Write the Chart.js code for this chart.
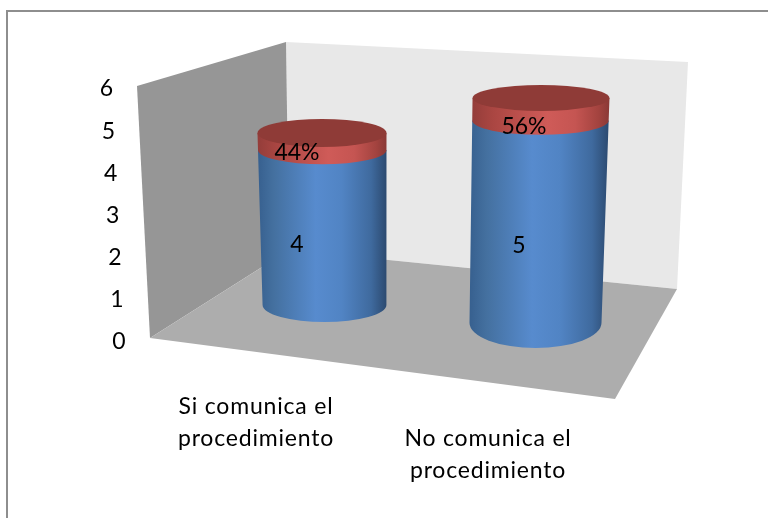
<!DOCTYPE html>
<html>
<head>
<meta charset="utf-8">
<script src="https://cdn.jsdelivr.net/npm/chart.js@4"></script>
<style>
  html, body { margin: 0; background: #fff; }
  #frame { position: absolute; left: 6px; top: 10px; right: 0; bottom: 0; border-left: 2px solid #8e8e8e; border-top: 2px solid #8e8e8e; }
  canvas { position: absolute; left: 0; top: 0; filter: blur(0.4px); }
</style>
</head>
<body>
<canvas id="myChart" width="768" height="518"></canvas>
<div id="frame"></div>
<script>
var categories = [["Si comunica el", "procedimiento"], ["No comunica el", "procedimiento"]];
var counts = [4, 5];
var shares = [0.44, 0.56];
var yTicks = [0, 1, 2, 3, 4, 5, 6];

// fake perspective, one entry per category. t is the bar height in scale pixels
var depth = [
  { dy: -37, k: 0.919, dx: 1.5, lean: -0.0134, w0: 0.96, dw: 0.000214, ry0: 17, dry: -0.016,
    countAt: [-26, 17], shareAt: [-26, 3] },
  { dy: -19, k: 0.96, dx: -2.5, lean: 0.0235, w0: 1.023, dw: 0.000164, ry0: 25, dry: -0.0512,
    countAt: [-19, 24], shareAt: [-14, 5.5] }
];

var FONT = '23px Lato, Carlito, sans-serif';

function poly(ctx, pts, fill) {
  ctx.beginPath();
  pts.forEach(function (p, i) { i ? ctx.lineTo(p[0], p[1]) : ctx.moveTo(p[0], p[1]); });
  ctx.closePath();
  ctx.fillStyle = fill;
  ctx.fill();
}

var room = {
  id: 'room',
  beforeDatasetsDraw: function (chart) {
    var ctx = chart.ctx;
    poly(ctx, [[286, 42], [688, 62], [677, 289], [289, 250]], '#e8e8e8');
    poly(ctx, [[137, 86], [286, 42], [289, 250], [150, 338]], '#969696');
    poly(ctx, [[150, 338], [289, 250], [677, 289], [615, 399]], '#adadad');
  }
};

function sideGradient(ctx, x0, x1, stops) {
  var g = ctx.createLinearGradient(x0, 0, x1, 0);
  stops.forEach(function (s) { g.addColorStop(s[0], s[1]); });
  return g;
}

var blueStops = [[0, '#37608f'], [0.12, '#44709f'], [0.45, '#578bce'], [0.65, '#5184c4'], [0.88, '#3f6a9e'], [1, '#2c4a70']];
var redStops = [[0, '#943d3a'], [0.15, '#aa4642'], [0.55, '#cf5b58'], [0.75, '#c55552'], [0.92, '#a3433f'], [1, '#8a3936']];

var cylinders = {
  id: 'cylinders',
  afterDatasetsDraw: function (chart) {
    var ctx = chart.ctx;
    var zero = chart.scales.y.getPixelForValue(0);
    function at(i, el, py) {
      var d = depth[i], t = zero - py;
      return {
        x: el.x + d.dx + d.lean * t,
        y: zero + d.dy - t * d.k,
        hw: el.width / 2 * (d.w0 + d.dw * t),
        ry: d.ry0 + d.dry * t
      };
    }
    function segment(a, b, stops) {
      // a is the lower ring, b the upper one
      var left = Math.min(a.x - a.hw, b.x - b.hw), right = Math.max(a.x + a.hw, b.x + b.hw);
      ctx.beginPath();
      ctx.moveTo(b.x - b.hw, b.y);
      ctx.lineTo(a.x - a.hw, a.y);
      ctx.ellipse(a.x, a.y, a.hw, a.ry, 0, Math.PI, 0, true);
      ctx.lineTo(b.x + b.hw, b.y);
      ctx.closePath();
      ctx.fillStyle = sideGradient(ctx, left, right, stops);
      ctx.fill();
    }
    chart.data.labels.forEach(function (_, i) {
      var lower = chart.getDatasetMeta(0).data[i], upper = chart.getDatasetMeta(1).data[i];
      var a = at(i, lower, lower.base), b = at(i, lower, lower.y), c = at(i, upper, upper.y);
      segment(a, b, blueStops);
      segment(b, c, redStops);
      ctx.beginPath();
      ctx.ellipse(c.x, c.y, c.hw, c.ry, 0, 0, Math.PI * 2);
      ctx.fillStyle = '#8f3b37';
      ctx.fill();

      ctx.font = FONT;
      ctx.fillStyle = '#000';
      ctx.textAlign = 'center';
      ctx.textBaseline = 'middle';
      var d = depth[i];
      var mid = at(i, lower, (lower.base + lower.y) / 2);
      ctx.fillText(String(counts[i]), lower.x + d.countAt[0], mid.y + d.countAt[1]);
      ctx.fillText(Math.round(shares[i] * 100) + '%', lower.x + d.shareAt[0], b.y + d.shareAt[1]);
    });
  }
};

// axis text runs along the slanted room edges, so it is placed by hand from the scales
var axisText = {
  id: 'axisText',
  afterDraw: function (chart) {
    var ctx = chart.ctx, y = chart.scales.y, x = chart.scales.x;
    ctx.save();
    ctx.font = FONT;
    ctx.fillStyle = '#000';
    ctx.textAlign = 'center';
    ctx.textBaseline = 'middle';
    yTicks.forEach(function (v) {
      ctx.fillText(String(v), 119 - 2.1 * v, y.getPixelForValue(v));
    });
    ctx.letterSpacing = '0.8px';
    var shift = [[-67, 407], [-50, 439]];
    categories.forEach(function (lines, i) {
      var cx = x.getPixelForTick(i) + shift[i][0];
      lines.forEach(function (line, j) {
        ctx.fillText(line, cx, shift[i][1] + j * 32);
      });
    });
    ctx.restore();
  }
};

new Chart(document.getElementById('myChart'), {
  type: 'bar',
  data: {
    labels: categories,
    datasets: [
      { label: 'Cantidad', data: counts, backgroundColor: 'transparent', stack: 's' },
      { label: 'Porcentaje', data: shares, backgroundColor: 'transparent', stack: 's' }
    ]
  },
  plugins: [room, cylinders, axisText],
  options: {
    responsive: false,
    animation: false,
    layout: { padding: { left: 215.5, right: 122.5, top: 89, bottom: 176 } },
    plugins: { legend: { display: false }, tooltip: { enabled: false } },
    scales: {
      x: { display: false, stacked: true },
      y: { display: false, stacked: true, min: 0, max: 6, ticks: { stepSize: 1 } }
    },
    datasets: { bar: { barPercentage: 0.6, categoryPercentage: 1 } }
  }
});
</script>
</body>
</html>
